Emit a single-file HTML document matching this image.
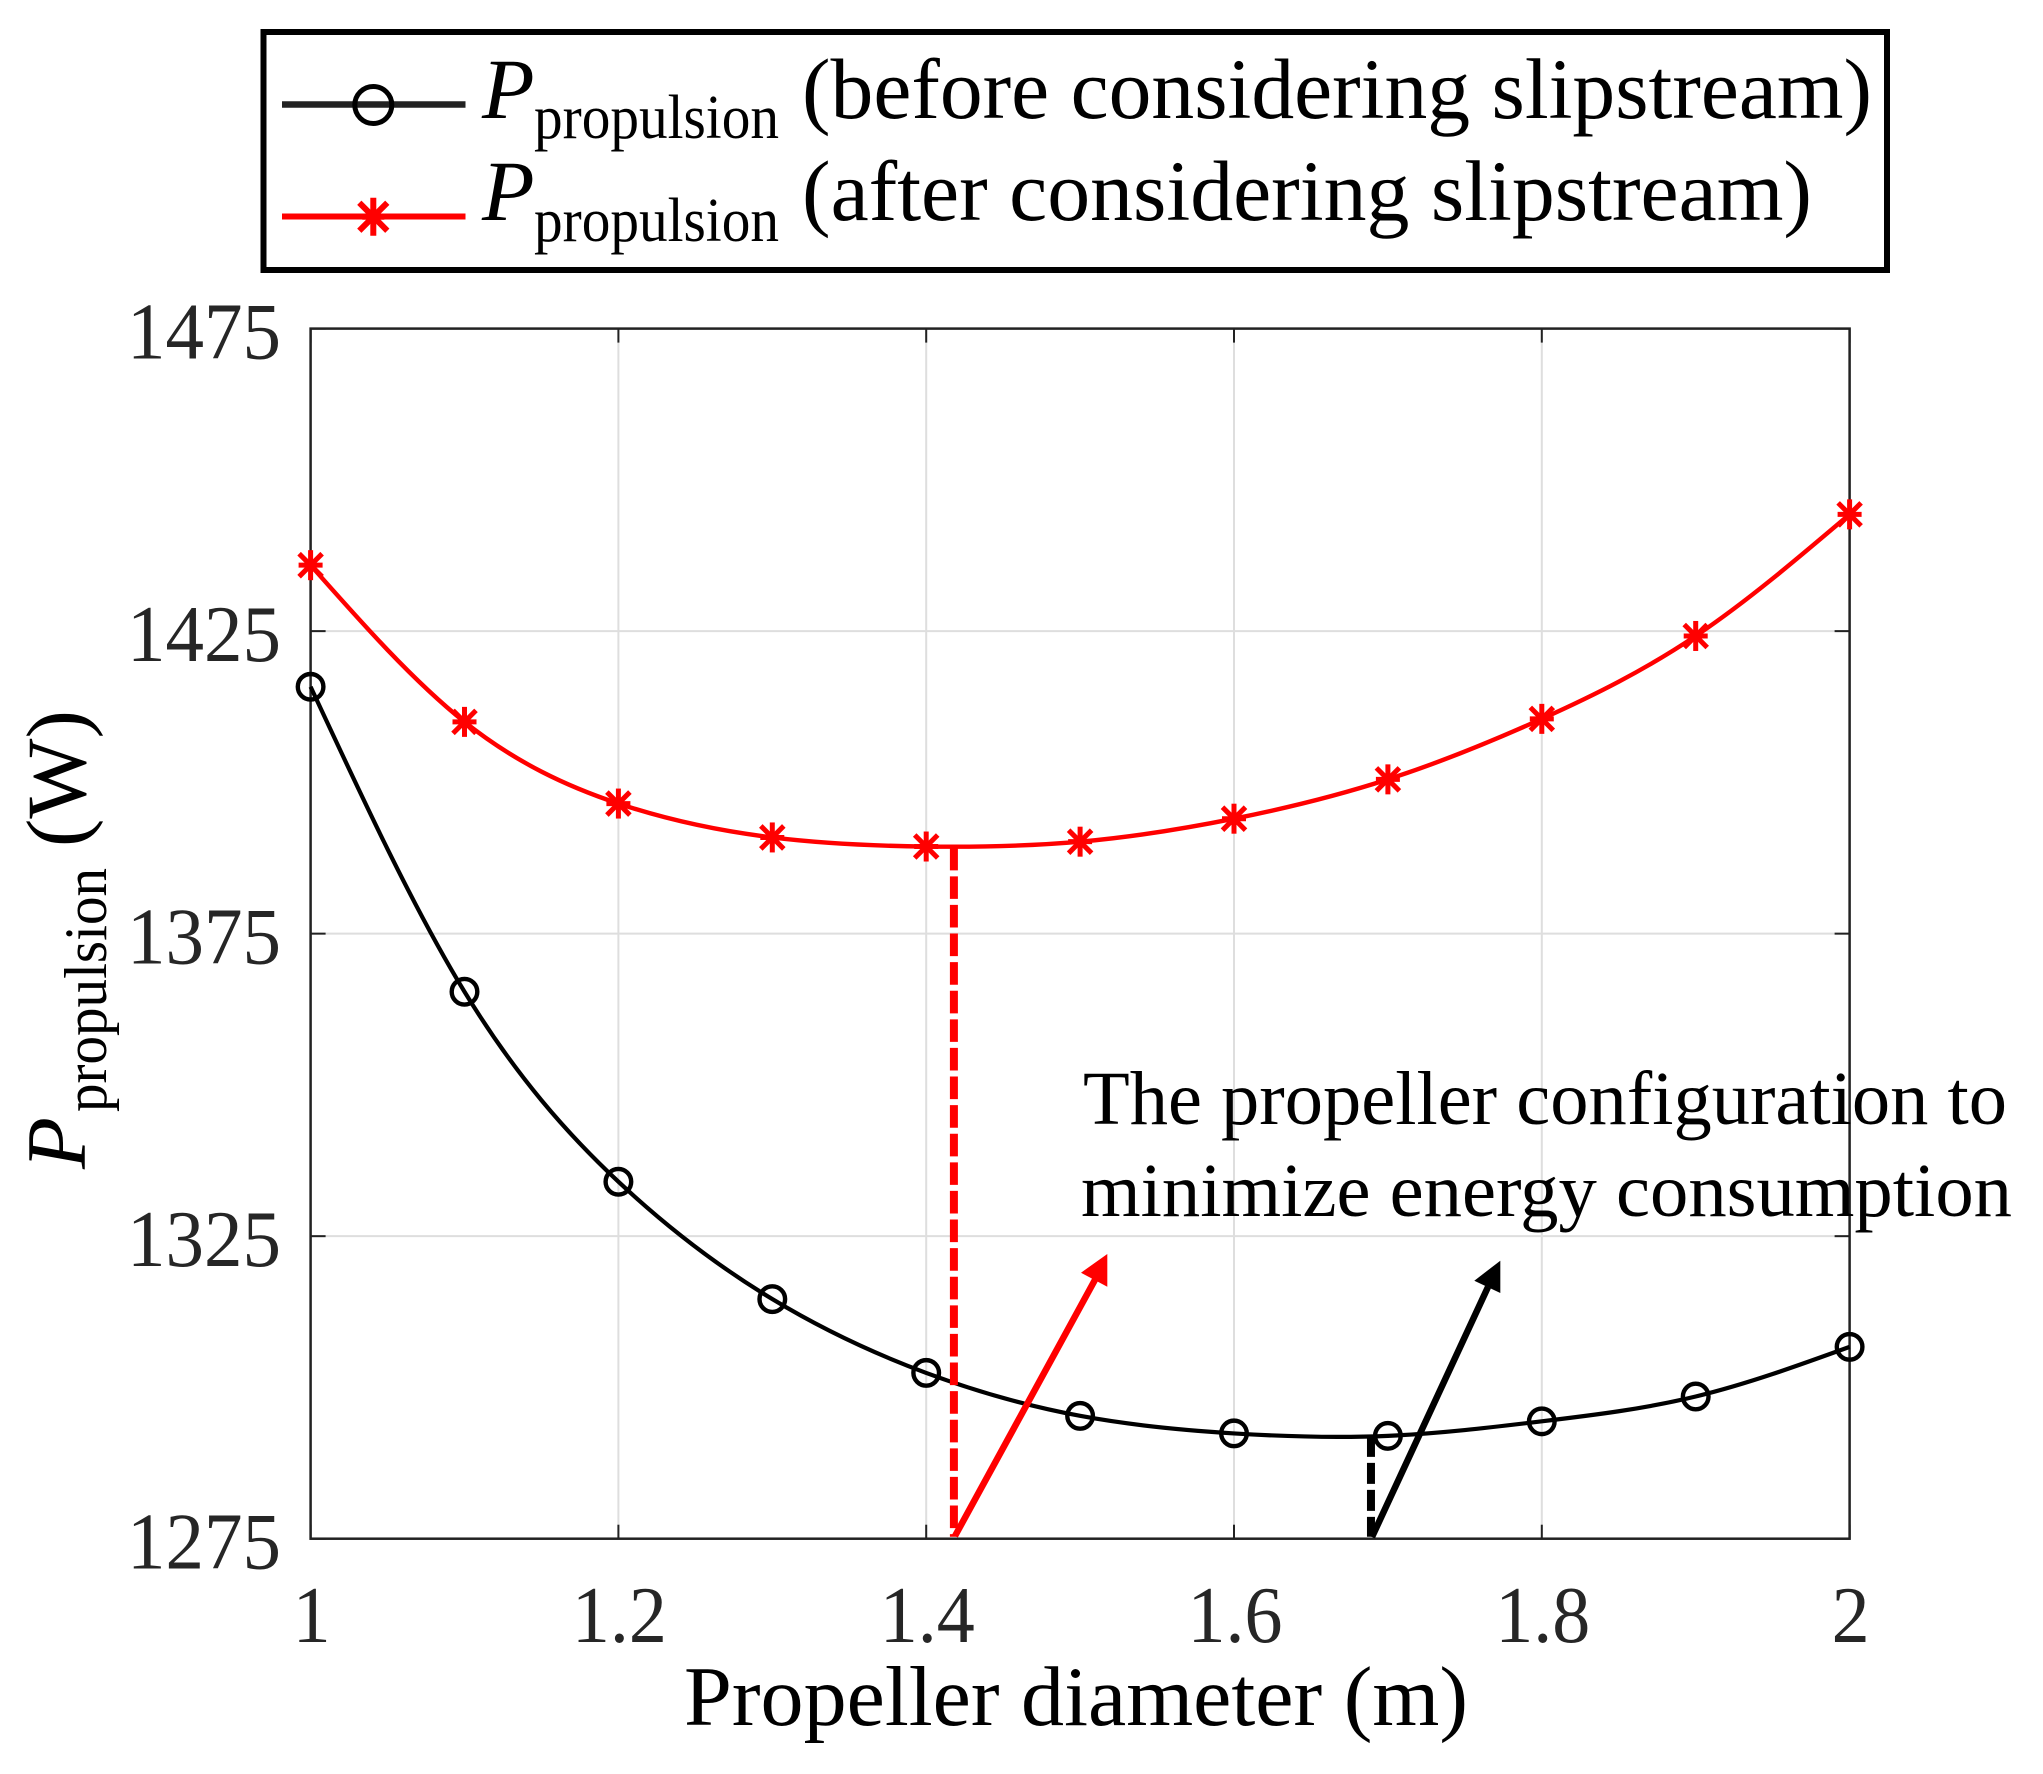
<!DOCTYPE html>
<html lang="en">
<head>
<meta charset="utf-8">
<title>Propulsion power vs propeller diameter</title>
<style>
html,body{margin:0;padding:0;background:#fff}
svg{display:block}
text{font-family:"Liberation Serif",serif}
</style>
</head>
<body>
<svg id="chart" xmlns="http://www.w3.org/2000/svg" width="2043" height="1774" viewBox="0 0 2043 1774">
  <rect x="0" y="0" width="2043" height="1774" fill="#fff"/>
  <g id="plot"></g>

  <g>
    <rect x="263.5" y="32" width="1623.5" height="238" fill="#fff" stroke="#000" stroke-width="6"/>
    <g>
      <line x1="282" y1="104.5" x2="465.5" y2="104.5" stroke="#222" stroke-width="6.5"/>
      <circle cx="373.3" cy="105" r="18.5" fill="none" stroke="#000" stroke-width="5"/>
      <text x="482" y="118" font-size="86" font-style="italic">P</text>
      <text x="534" y="138" font-size="62" textLength="245" lengthAdjust="spacingAndGlyphs">propulsion</text>
      <text x="802" y="118" font-size="86" textLength="1070" lengthAdjust="spacingAndGlyphs">(before considering slipstream)</text>
    </g>
    <g>
      <line x1="282" y1="216.5" x2="465.5" y2="216.5" stroke="#f00" stroke-width="6"/>
      <g stroke="#f00" stroke-width="6" transform="translate(373.3 216.7)">
        <line x1="0" y1="-19" x2="0" y2="19"/>
        <line x1="-14" y1="-14" x2="14" y2="14"/>
        <line x1="-14" y1="14" x2="14" y2="-14"/>
        <line x1="-11" y1="0" x2="11" y2="0"/>
      </g>
      <text x="482" y="220" font-size="86" font-style="italic">P</text>
      <text x="534" y="241" font-size="62" textLength="245" lengthAdjust="spacingAndGlyphs">propulsion</text>
      <text x="802" y="220" font-size="86" textLength="1010" lengthAdjust="spacingAndGlyphs">(after considering slipstream)</text>
    </g>
  </g>

  <text x="684" y="1725" font-size="85" textLength="784" lengthAdjust="spacingAndGlyphs">Propeller diameter (m)</text>

  <g>
    <text transform="translate(85 1169) rotate(-90)" font-size="85" font-style="italic">P</text>
    <text transform="translate(106 1112) rotate(-90)" font-size="60" textLength="244" lengthAdjust="spacingAndGlyphs">propulsion</text>
    <text transform="translate(85 847) rotate(-90)" font-size="85">(W)</text>
  </g>

  <polygon points="1107.3,1254 1081,1272.7 1107.3,1286.7" fill="#f00"/>
  <line x1="955" y1="1536" x2="1096.7" y2="1276.7" stroke="#f00" stroke-width="6.5"/>
  <polygon points="1500.3,1260.7 1474.3,1280.7 1500.3,1293" fill="#000"/>
  <line x1="1372" y1="1537" x2="1488" y2="1287" stroke="#000" stroke-width="6.5"/>

  <text x="1083" y="1124" font-size="76" textLength="924" lengthAdjust="spacingAndGlyphs">The propeller configuration to</text>
  <text x="1081" y="1216" font-size="76" textLength="931" lengthAdjust="spacingAndGlyphs">minimize energy consumption</text>
</svg>

<script>
// Chart data
const diameters = [1.0, 1.1, 1.2, 1.3, 1.4, 1.5, 1.6, 1.7, 1.8, 1.9, 2.0];
const powerBefore = [1415.8, 1365.4, 1334.0, 1314.6, 1302.4, 1295.3, 1292.4, 1292.0, 1294.4, 1298.5, 1306.7];
const powerAfter = [1435.9, 1410.0, 1396.5, 1390.9, 1389.4, 1390.2, 1394.0, 1400.5, 1410.5, 1424.2, 1444.3];
const xTicks = [1, 1.2, 1.4, 1.6, 1.8, 2];
const xTickLabels = ["1", "1.2", "1.4", "1.6", "1.8", "2"];
const yTicks = [1275, 1325, 1375, 1425, 1475];
const yTickLabels = ["1275", "1325", "1375", "1425", "1475"];
const optimumBefore = [1.689, 1292.0];
const optimumAfter = [1.418, 1389.2];

const plotLeft = 310.6, plotRight = 1849.6, plotTop = 328.6, plotBottom = 1538.7;
const xMin = 1, xMax = 2, yMin = 1275, yMax = 1475;
function xAxis(v) { return plotLeft + (v - xMin) / (xMax - xMin) * (plotRight - plotLeft); }
function yAxis(v) { return plotBottom - (v - yMin) / (yMax - yMin) * (plotBottom - plotTop); }

const NS = 'http://www.w3.org/2000/svg';
const plot = document.getElementById('plot');
function make(tag, attrs, parent) {
  const el = document.createElementNS(NS, tag);
  for (const k in attrs) el.setAttribute(k, attrs[k]);
  (parent || plot).appendChild(el);
  return el;
}

// Grid lines
xTicks.forEach(function (t, i) {
  if (i === 0 || i === xTicks.length - 1) return;
  const el = make('line', {x1: xAxis(t), x2: xAxis(t), y1: plotTop, y2: plotBottom, stroke: '#dedede', 'stroke-width': 2});
  
  
});
yTicks.forEach(function (t, i) {
  if (i === 0 || i === yTicks.length - 1) return;
  const el = make('line', {x1: plotLeft, x2: plotRight, y1: yAxis(t), y2: yAxis(t), stroke: '#dedede', 'stroke-width': 2});
  
  
});

// Axes frame and ticks
const frame = make('rect', {x: plotLeft, y: plotTop, width: plotRight - plotLeft, height: plotBottom - plotTop, fill: 'none', stroke: '#222', 'stroke-width': 2.5});



xTicks.forEach(function (t, i) {
  const bottom = make('line', {x1: xAxis(t), x2: xAxis(t), y1: plotBottom, y2: plotBottom - 14, stroke: '#222', 'stroke-width': 2});
  
  
  const top = make('line', {x1: xAxis(t), x2: xAxis(t), y1: plotTop, y2: plotTop + 14, stroke: '#222', 'stroke-width': 2});
  
  
  const label = make('text', {x: xAxis(t) + 1, y: 1642, 'font-size': 80, 'text-anchor': 'middle', fill: '#262626', textLength: xTickLabels[i].length > 1 ? 95 : 38, lengthAdjust: 'spacingAndGlyphs'});
  label.textContent = xTickLabels[i];
  
  
});
yTicks.forEach(function (t, i) {
  const left = make('line', {x1: plotLeft, x2: plotLeft + 15, y1: yAxis(t), y2: yAxis(t), stroke: '#222', 'stroke-width': 2});
  
  
  const right = make('line', {x1: plotRight, x2: plotRight - 15, y1: yAxis(t), y2: yAxis(t), stroke: '#222', 'stroke-width': 2});
  
  
  const label = make('text', {x: 281, y: yAxis(t) + 30, 'font-size': 80, 'text-anchor': 'end', fill: '#262626', textLength: 154, lengthAdjust: 'spacingAndGlyphs'});
  label.textContent = yTickLabels[i];
  
  
});

// Smooth curve through the data points (natural cubic spline as Bezier segments)
function curvePath(xs, ys) {
  const p = xs.map(function (x, i) { return [xAxis(x), yAxis(ys[i])]; });
  const n = p.length;
  const h = [];
  for (let i = 0; i < n - 1; i++) h.push(p[i + 1][0] - p[i][0]);
  const a = new Array(n).fill(0), b = new Array(n).fill(1), c = new Array(n).fill(0), r = new Array(n).fill(0);
  for (let i = 1; i < n - 1; i++) {
    a[i] = h[i - 1];
    b[i] = 2 * (h[i - 1] + h[i]);
    c[i] = h[i];
    r[i] = 6 * ((p[i + 1][1] - p[i][1]) / h[i] - (p[i][1] - p[i - 1][1]) / h[i - 1]);
  }
  for (let i = 1; i < n; i++) {
    const m = a[i] / b[i - 1];
    b[i] -= m * c[i - 1];
    r[i] -= m * r[i - 1];
  }
  const s = new Array(n).fill(0);
  s[n - 1] = r[n - 1] / b[n - 1];
  for (let i = n - 2; i >= 0; i--) s[i] = (r[i] - c[i] * s[i + 1]) / b[i];
  let d = 'M' + p[0][0].toFixed(2) + ' ' + p[0][1].toFixed(2);
  for (let i = 0; i < n - 1; i++) {
    const slope = (p[i + 1][1] - p[i][1]) / h[i];
    const m0 = slope - h[i] * (2 * s[i] + s[i + 1]) / 6;
    const m1 = slope + h[i] * (s[i] + 2 * s[i + 1]) / 6;
    const c1x = p[i][0] + h[i] / 3, c1y = p[i][1] + m0 * h[i] / 3;
    const c2x = p[i + 1][0] - h[i] / 3, c2y = p[i + 1][1] - m1 * h[i] / 3;
    d += 'C' + c1x.toFixed(2) + ' ' + c1y.toFixed(2) + ' ' + c2x.toFixed(2) + ' ' + c2y.toFixed(2) + ' ' + p[i + 1][0].toFixed(2) + ' ' + p[i + 1][1].toFixed(2);
  }
  return d;
}

const lineBefore = make('path', {d: curvePath(diameters, powerBefore), fill: 'none', stroke: '#000', 'stroke-width': 4.2});



const lineAfter = make('path', {d: curvePath(diameters, powerAfter), fill: 'none', stroke: '#f00', 'stroke-width': 4.4});



// Markers
diameters.forEach(function (x, i) {
  const c = make('circle', {cx: xAxis(x), cy: yAxis(powerBefore[i]), r: 12.8, fill: 'none', stroke: '#000', 'stroke-width': 4.4});
  
  
});
const starArms = [[0, -15, 0, 15], [-11.5, -11.5, 11.5, 11.5], [-11.5, 11.5, 11.5, -11.5], [-12, 0, 12, 0]];
diameters.forEach(function (x, i) {
  const g = make('g', {transform: 'translate(' + xAxis(x) + ' ' + yAxis(powerAfter[i]) + ')', stroke: '#f00', 'stroke-width': 5});
  
  
  starArms.forEach(function (a) {
    make('line', {x1: a[0], y1: a[1], x2: a[2], y2: a[3]}, g);
  });
});

// Optimum drop lines
const dropAfter = make('line', {x1: xAxis(optimumAfter[0]), x2: xAxis(optimumAfter[0]), y1: yAxis(optimumAfter[1]), y2: plotBottom - 2, stroke: '#f00', 'stroke-width': 8, 'stroke-dasharray': '22.6 6'});



const dropBefore = make('line', {x1: xAxis(optimumBefore[0]), x2: xAxis(optimumBefore[0]), y1: yAxis(optimumBefore[1]), y2: plotBottom - 2, stroke: '#000', 'stroke-width': 8, 'stroke-dasharray': '21 6'});


</script>
</body>
</html>
